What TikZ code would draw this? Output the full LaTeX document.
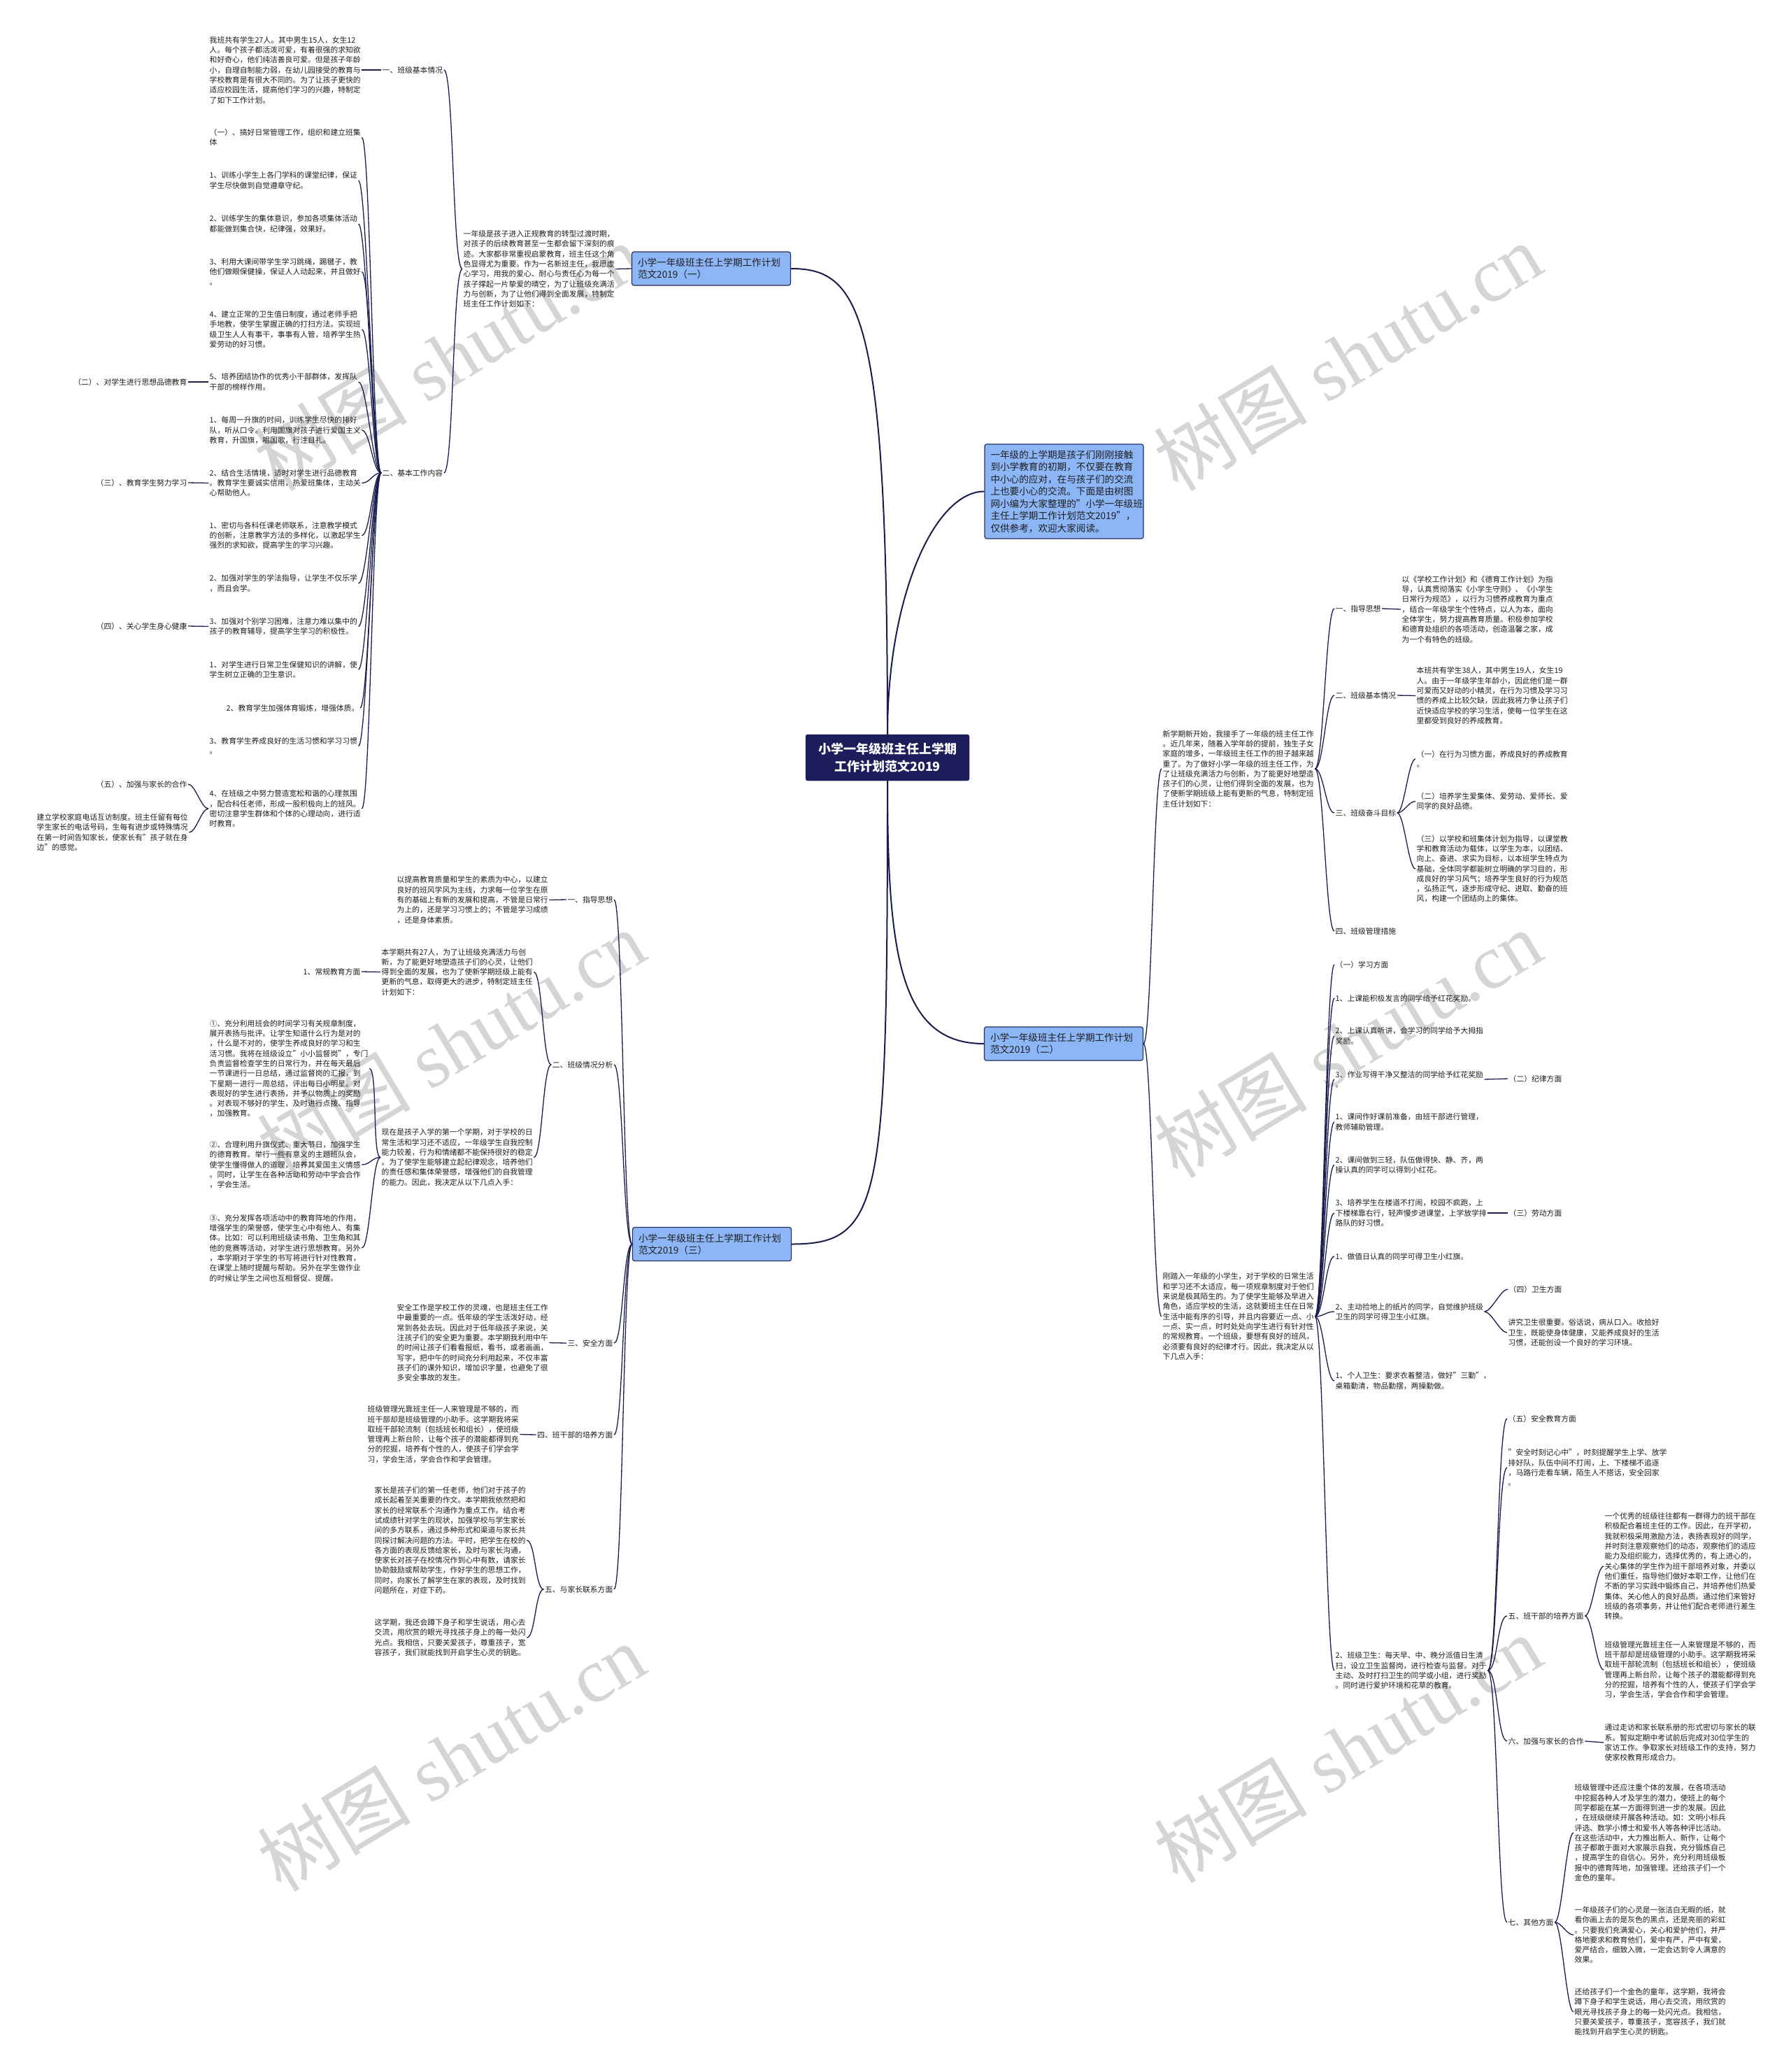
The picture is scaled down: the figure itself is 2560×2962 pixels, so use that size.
\documentclass[tikz,border=0pt]{standalone}
\usepackage{fontspec}
\setmainfont{Noto Sans CJK SC}
\newfontfamily\wmserif{Liberation Serif}
\usetikzlibrary{calc}
\definecolor{lnk}{HTML}{1A1D4E}
\definecolor{ctrfill}{HTML}{1B1E5A}
\definecolor{bfill}{HTML}{8DB6F7}
\definecolor{bdraw}{HTML}{27305E}
\definecolor{txtc}{HTML}{1E1E1E}
\definecolor{wmc}{HTML}{D5D5D5}
\tikzset{
 txt/.style={font=\fontsize{10.8}{14.3}\selectfont, align=left, inner sep=1.5pt, text=txtc},
 link/.style={draw=lnk, line width=1.3pt},
 mainlink/.style={draw=lnk, line width=2pt},
 branchbox/.style={draw=bdraw, fill=bfill, line width=1.2pt, rounded corners=3pt,
   font=\fontsize{13.6}{17}\selectfont, align=left, text width=210pt,
   inner xsep=8.5pt, inner ysep=5pt, minimum height=48pt, text=txtc},
 ctrbox/.style={draw=ctrfill, fill=ctrfill, rounded corners=3pt,
   font=\bfseries\fontsize{18}{25}\selectfont, align=center, text=white,
   minimum width=234pt, minimum height=66pt},
 wm/.style={text=wmc, rotate=31, font=\fontsize{110}{110}\selectfont, inner sep=0pt},
}
\newcommand\lkL[3][12]{\draw[link] (#2) .. controls +(-#1,0) and +(#1,0) .. (#3);}
\newcommand\lkR[3][12]{\draw[link] (#2) .. controls +(#1,0) and +(-#1,0) .. (#3);}
\begin{document}
\begin{tikzpicture}[x=1pt,y=-1pt]
\fill[white] (0,0) rectangle (2560,2962);
\useasboundingbox (0,0) rectangle (2560,2962);
% watermarks
\node[wm] (w1) at (640,510) {树图\hspace{0.25em}{\wmserif shutu.cn}};
\node[wm] (w2) at (1927,510) {树图\hspace{0.25em}{\wmserif shutu.cn}};
\node[wm] (w3) at (645,1492) {树图\hspace{0.25em}{\wmserif shutu.cn}};
\node[wm] (w4) at (1927,1492) {树图\hspace{0.25em}{\wmserif shutu.cn}};
\node[wm] (w5) at (645,2512) {树图\hspace{0.25em}{\wmserif shutu.cn}};
\node[wm] (w6) at (1927,2500) {树图\hspace{0.25em}{\wmserif shutu.cn}};

% ===== center and branches =====
\node[ctrbox] (ctr) at (1269,1083) {小学一年级班主任上学期\\工作计划范文2019};
\node[branchbox] (b1) at (1017,384) {小学一年级班主任上学期工作计划\\范文2019（一）};
\node[branchbox, minimum height=135pt, font=\fontsize{13.6}{17.5}\selectfont] (ri) at (1521.5,702.5) {一年级的上学期是孩子们刚刚接触\\到小学教育的初期，不仅要在教育\\中小心的应对，在与孩子们的交流\\上也要小心的交流。下面是由树图\\网小编为大家整理的"小学一年级班\\主任上学期工作计划范文2019"，\\仅供参考，欢迎大家阅读。};
\node[branchbox] (b2) at (1521,1492) {小学一年级班主任上学期工作计划\\范文2019（二）};
\node[branchbox] (b3) at (1018,1778.5) {小学一年级班主任上学期工作计划\\范文2019（三）};
\draw[mainlink] (b1.east) .. controls +(100,0) and +(0,-600) .. (ctr.north);
\draw[mainlink] (ri.west) .. controls +(-70,0) and +(0,-200) .. (ctr.north);
\draw[mainlink] (ctr.south) .. controls +(0,250) and +(-120,0) .. (b2.west);
\draw[mainlink] (ctr.south) .. controls +(0,600) and +(130,0) .. (b3.east);

% ===== branch (一) =====
\node[txt, anchor=west] (I1) at (661,384.5) {一年级是孩子进入正规教育的转型过渡时期，\\对孩子的后续教育甚至一生都会留下深刻的痕\\迹。大家都非常重视启蒙教育，班主任这个角\\色显得尤为重要。作为一名新班主任，我愿虚\\心学习，用我的爱心、耐心与责任心为每一个\\孩子撑起一片挚爱的晴空，为了让班级充满活\\力与创新，为了让他们得到全面发展，特制定\\班主任工作计划如下：};
\draw[link] (b1.west) -- (I1.east);
\node[txt, anchor=west] (L1) at (545,100) {一、班级基本情况};
\node[txt, anchor=west] (L2) at (545,676) {二、基本工作内容};
\lkL[14]{I1.west}{L1.east}
\lkL[14]{I1.west}{L2.east}
\node[txt, anchor=west] (A1) at (298,100) {我班共有学生27人。其中男生15人，女生12\\人。每个孩子都活泼可爱，有着很强的求知欲\\和好奇心，他们纯洁善良可爱。但是孩子年龄\\小，自理自制能力弱，在幼儿园接受的教育与\\学校教育是有很大不同的。为了让孩子更快的\\适应校园生活，提高他们学习的兴趣，特制定\\了如下工作计划。};
\draw[link] (A1.east) -- (L1.west);

\node[txt, anchor=west] (c1) at (298,196.5) {（一）、搞好日常管理工作，组织和建立班集\\体};
\node[txt, anchor=west] (c2) at (298,258) {1、训练小学生上各门学科的课堂纪律，保证\\学生尽快做到自觉遵章守纪。};
\node[txt, anchor=west] (c3) at (298,320) {2、训练学生的集体意识，参加各项集体活动\\都能做到集合快，纪律强，效果好。};
\node[txt, anchor=west] (c4) at (298,388.5) {3、利用大课间带学生学习跳绳，踢毽子，教\\他们做眼保健操，保证人人动起来，并且做好\\。};
\node[txt, anchor=west] (c5) at (298,471) {4、建立正常的卫生值日制度，通过老师手把\\手地教，使学生掌握正确的打扫方法。实现班\\级卫生人人有事干，事事有人管，培养学生热\\爱劳动的好习惯。};
\node[txt, anchor=west] (c6) at (298,546) {5、培养团结协作的优秀小干部群体，发挥队\\干部的榜样作用。};
\node[txt, anchor=west] (c7) at (298,615) {1、每周一升旗的时间，训练学生尽快的排好\\队，听从口令。利用国旗对孩子进行爱国主义\\教育，升国旗，唱国歌，行注目礼。};
\node[txt, anchor=west] (c8) at (298,690.5) {2、结合生活情境，适时对学生进行品德教育\\。教育学生要诚实信用，热爱班集体，主动关\\心帮助他人。};
\node[txt, anchor=west] (c9) at (298,765.5) {1、密切与各科任课老师联系，注意教学模式\\的创新，注意教学方法的多样化，以激起学生\\强烈的求知欲，提高学生的学习兴趣。};
\node[txt, anchor=west] (c10) at (298,834) {2、加强对学生的学法指导，让学生不仅乐学\\，而且会学。};
\node[txt, anchor=west] (c11) at (298,895.5) {3、加强对个别学习困难，注意力难以集中的\\孩子的教育辅导，提高学生学习的积极性。};
\node[txt, anchor=west] (c12) at (298,957) {1、对学生进行日常卫生保健知识的讲解，使\\学生树立正确的卫生意识。};
\node[txt, anchor=east] (c13) at (515,1012) {2、教育学生加强体育锻炼，增强体质。};
\node[txt, anchor=west] (c14) at (298,1066.5) {3、教育学生养成良好的生活习惯和学习习惯\\。};
\node[txt, anchor=west] (c15) at (298,1156) {4、在班级之中努力营造宽松和谐的心理氛围\\，配合科任老师，形成一股积极向上的班风。\\密切注意学生群体和个体的心理动向，进行适\\时教育。};
\foreach \n in {c1,c2,c3,c4,c5,c6,c7,c8,c9,c10,c11,c12,c13,c14,c15}{\lkL[12]{L2.west}{\n.east}}

\node[txt, anchor=east] (g2) at (269,546) {（二）、对学生进行思想品德教育};
\node[txt, anchor=east] (g3) at (269,690) {（三）、教育学生努力学习};
\node[txt, anchor=east] (g4) at (269,895) {（四）、关心学生身心健康};
\node[txt, anchor=east] (g5) at (269,1121) {（五）、加强与家长的合作};
\node[txt, anchor=west] (g6) at (51,1190) {建立学校家庭电话互访制度。班主任留有每位\\学生家长的电话号码，生每有进步或特殊情况\\在第一时间告知家长，使家长有"孩子就在身\\边"的感觉。};
\draw[link] (g2.east) -- (c6.west);
\draw[link] (g3.east) -- (c8.west);
\draw[link] (g4.east) -- (c11.west);
\lkL[10]{c15.west}{g5.east}
\lkL[10]{c15.west}{g6.east}

% ===== branch (二) =====
\node[txt, anchor=west] (P1) at (1661,1099) {新学期新开始，我接手了一年级的班主任工作\\。近几年来，随着入学年龄的提前，独生子女\\家庭的增多，一年级班主任工作的担子越来越\\重了。为了做好小学一年级的班主任工作，为\\了让班级充满活力与创新，为了能更好地塑造\\孩子们的心灵，让他们得到全面的发展，也为\\了使新学期班级上能有更新的气息，特制定班\\主任计划如下：};
\node[txt, anchor=west] (P2) at (1661,1882) {刚踏入一年级的小学生，对于学校的日常生活\\和学习还不太适应，每一项规章制度对于他们\\来说是极其陌生的。为了使学生能够及早进入\\角色，适应学校的生活，这就要班主任在日常\\生活中能有序的引导，并且内容要近一点、小\\一点、实一点，时时处处向学生进行有针对性\\的常规教育。一个班级，要想有良好的班风，\\必须要有良好的纪律才行。因此，我决定从以\\下几点入手：};
\lkR[12]{b2.east}{P1.west}
\lkR[12]{b2.east}{P2.west}

\node[txt, anchor=west] (R1) at (1908,870) {一、指导思想};
\node[txt, anchor=west] (R2) at (1908,994) {二、班级基本情况};
\node[txt, anchor=west] (R3) at (1908,1162) {三、班级奋斗目标};
\node[txt, anchor=west] (R4) at (1908,1331) {四、班级管理措施};
\foreach \n in {R1,R2,R3,R4}{\lkR[12]{P1.east}{\n.west}}
\node[txt, anchor=west] (R1t) at (2003,871) {以《学校工作计划》和《德育工作计划》为指\\导，认真贯彻落实《小学生守则》、《小学生\\日常行为规范》，以行为习惯养成教育为重点\\，结合一年级学生个性特点，以人为本，面向\\全体学生，努力提高教育质量。积极参加学校\\和德育处组织的各项活动，创造温馨之家，成\\为一个有特色的班级。};
\node[txt, anchor=west] (R2t) at (2024,994.5) {本班共有学生38人，其中男生19人，女生19\\人。由于一年级学生年龄小，因此他们是一群\\可爱而又好动的小精灵，在行为习惯及学习习\\惯的养成上比较欠缺，因此我将力争让孩子们\\近快适应学校的学习生活，使每一位学生在这\\里都受到良好的养成教育。};
\draw[link] (R1.east) -- (R1t.west);
\draw[link] (R2.east) -- (R2t.west);
\node[txt, anchor=west] (R3a) at (2024,1085) {（一）在行为习惯方面，养成良好的养成教育\\。};
\node[txt, anchor=west] (R3b) at (2024,1145.5) {（二）培养学生爱集体、爱劳动、爱师长、爱\\同学的良好品德。};
\node[txt, anchor=west] (R3c) at (2024,1242) {（三）以学校和班集体计划为指导，以课堂教\\学和教育活动为载体，以学生为本，以团结、\\向上、奋进、求实为目标，以本班学生特点为\\基础，全体同学都能树立明确的学习目的，形\\成良好的学习风气；培养学生良好的行为规范\\，弘扬正气，逐步形成守纪、进取、勤奋的班\\风，构建一个团结向上的集体。};
\foreach \n in {R3a,R3b,R3c}{\lkR[10]{R3.east}{\n.west}}

\node[txt, anchor=west] (S1) at (1908,1379) {（一）学习方面};
\node[txt, anchor=west] (S2) at (1908,1427) {1、上课能积极发言的同学给予红花奖励。};
\node[txt, anchor=west] (S3) at (1908,1481) {2、上课认真听讲，会学习的同学给予大拇指\\奖励。};
\node[txt, anchor=west] (S4) at (1908,1543) {3、作业写得干净又整洁的同学给予红花奖励\\。};
\node[txt, anchor=west] (S5) at (1908,1604) {1、课间作好课前准备，由班干部进行管理，\\教师辅助管理。};
\node[txt, anchor=west] (S6) at (1908,1665.5) {2、课间做到三轻，队伍做得快、静、齐，两\\操认真的同学可以得到小红花。};
\node[txt, anchor=west] (S7) at (1908,1734) {3、培养学生在楼道不打闹，校园不疯跑，上\\下楼梯靠右行，轻声慢步进课堂，上学放学排\\路队的好习惯。};
\node[txt, anchor=west] (S8) at (1908,1796) {1、做值日认真的同学可得卫生小红旗。};
\node[txt, anchor=west] (S9) at (1908,1875) {2、主动捡地上的纸片的同学，自觉维护班级\\卫生的同学可得卫生小红旗。};
\node[txt, anchor=west] (S10) at (1908,1974) {1、个人卫生：要求衣着整洁，做好"三勤"，\\桌箱勤清，物品勤摆，两操勤做。};
\node[txt, anchor=west] (S11) at (1908,2388) {2、班级卫生：每天早、中、晚分派值日生清\\扫，设立卫生监督岗，进行检查与监督。对于\\主动、及时打扫卫生的同学或小组，进行奖励\\。同时进行爱护环境和花草的教育。};
\foreach \n in {S1,S2,S3,S4,S5,S6,S7,S8,S9,S10,S11}{\lkR[12]{P2.east}{\n.west}}
\node[txt, anchor=west] (S4c) at (2156,1542) {（二）纪律方面};
\node[txt, anchor=west] (S7c) at (2156,1734) {（三）劳动方面};
\draw[link] (S4.east) -- (S4c.west);
\draw[link] (S7.east) -- (S7c.west);
\node[txt, anchor=west] (S9a) at (2156,1843) {（四）卫生方面};
\node[txt, anchor=west] (S9b) at (2155,1905) {讲究卫生很重要。俗话说，病从口入。收拾好\\卫生，既能使身体健康，又能养成良好的生活\\习惯，还能创设一个良好的学习环境。};
\lkR[10]{S9.east}{S9a.west}
\lkR[10]{S9.east}{S9b.west}

\node[txt, anchor=west] (T1) at (2155,2028) {（五）安全教育方面};
\node[txt, anchor=west] (T2) at (2155,2098) {"安全时刻记心中"，时刻提醒学生上学、放学\\排好队，队伍中间不打闹，上、下楼梯不追逐\\，马路行走看车辆，陌生人不搭话，安全回家\\。};
\node[txt, anchor=west] (T3) at (2155,2310) {五、班干部的培养方面};
\node[txt, anchor=west] (T4) at (2155,2489) {六、加强与家长的合作};
\node[txt, anchor=west] (T5) at (2155,2748) {七、其他方面};
\foreach \n in {T1,T2,T3,T4,T5}{\lkR[14]{S11.east}{\n.west}}
\node[txt, anchor=west] (T3a) at (2293,2239) {一个优秀的班级往往都有一群得力的班干部在\\积极配合着班主任的工作。因此，在开学初，\\我就积极采用激励方法，表扬表现好的同学，\\并时刻注意观察他们的动态，观察他们的适应\\能力及组织能力，选择优秀的，有上进心的，\\关心集体的学生作为班干部培养对象，并委以\\他们重任，指导他们做好本职工作，让他们在\\不断的学习实践中锻炼自己，并培养他们热爱\\集体、关心他人的良好品质。通过他们来管好\\班级的各项事务，并让他们配合老师进行差生\\转换。};
\node[txt, anchor=west] (T3b) at (2293,2387) {班级管理光靠班主任一人来管理是不够的，而\\班干部却是班级管理的小助手。这学期我将采\\取班干部轮流制（包括班长和组长），使班级\\管理再上新台阶，让每个孩子的潜能都得到充\\分的挖掘，培养有个性的人，使孩子们学会学\\习，学会生活，学会合作和学会管理。};
\lkR[10]{T3.east}{T3a.west}
\lkR[10]{T3.east}{T3b.west}
\node[txt, anchor=west] (T4t) at (2293,2491) {通过走访和家长联系册的形式密切与家长的联\\系。暂拟定期中考试前后完成对30位学生的\\家访工作。争取家长对班级工作的支持，努力\\使家校教育形成合力。};
\draw[link] (T4.east) -- (T4t.west);
\node[txt, anchor=west] (T5a) at (2250,2620) {班级管理中还应注重个体的发展，在各项活动\\中挖掘各种人才及学生的潜力，使班上的每个\\同学都能在某一方面得到进一步的发展。因此\\，在班级继续开展各种活动。如：文明小标兵\\评选、数学小博士和爱书人等各种评比活动。\\在这些活动中，大力推出新人、新作，让每个\\孩子都敢于面对大家展示自我，充分锻炼自己\\，提高学生的自信心。另外，充分利用班级板\\报中的德育阵地，加强管理。还给孩子们一个\\金色的童年。};
\node[txt, anchor=west] (T5b) at (2250,2766) {一年级孩子们的心灵是一张洁白无暇的纸，就\\看你画上去的是灰色的黑点，还是亮丽的彩虹\\。只要我们充满爱心，关心和爱护他们，并严\\格地要求和教育他们，爱中有严，严中有爱，\\爱严结合，细致入微，一定会达到令人满意的\\效果。};
\node[txt, anchor=west] (T5c) at (2250,2876) {还给孩子们一个金色的童年，这学期，我将会\\蹲下身子和学生说话，用心去交流，用欣赏的\\眼光寻找孩子身上的每一处闪光点。我相信，\\只要关爱孩子，尊重孩子，宽容孩子，我们就\\能找到开启学生心灵的钥匙。};
\foreach \n in {T5a,T5b,T5c}{\lkR[10]{T5.east}{\n.west}}

% ===== branch (三) =====
\node[txt, anchor=east] (U1) at (878,1286) {一、指导思想};
\node[txt, anchor=east] (U2) at (878,1522) {二、班级情况分析};
\node[txt, anchor=east] (U3) at (878,1920) {三、安全方面};
\node[txt, anchor=east] (U4) at (878,2051) {四、班干部的培养方面};
\node[txt, anchor=east] (U5) at (878,2272) {五、与家长联系方面};
\foreach \n in {U1,U2,U3,U4,U5}{\lkL[13]{b3.west}{\n.east}}
\node[txt, anchor=west] (U1t) at (566,1286.5) {以提高教育质量和学生的素质为中心，以建立\\良好的班风学风为主线，力求每一位学生在原\\有的基础上有新的发展和提高，不管是日常行\\为上的，还是学习习惯上的；不管是学习成绩\\，还是身体素质。};
\draw[link] (U1t.east) -- (U1.west);
\node[txt, anchor=west] (U2a) at (544,1389.5) {本学期共有27人，为了让班级充满活力与创\\新，为了能更好地塑造孩子们的心灵，让他们\\得到全面的发展，也为了使新学期班级上能有\\更新的气息，取得更大的进步，特制定班主任\\计划如下：};
\node[txt, anchor=west] (U2b) at (544,1654.5) {现在是孩子入学的第一个学期，对于学校的日\\常生活和学习还不适应，一年级学生自我控制\\能力较差，行为和情绪都不能保持很好的稳定\\。为了使学生能够建立起纪律观念，培养他们\\的责任感和集体荣誉感，增强他们的自我管理\\的能力。因此，我决定从以下几点入手：};
\lkL[12]{U2.west}{U2a.east}
\lkL[12]{U2.west}{U2b.east}
\node[txt, anchor=east] (U2a1) at (517,1389) {1、常规教育方面};
\draw[link] (U2a1.east) -- (U2a.west);
\node[txt, anchor=west] (V1) at (298,1527.5) {①、充分利用班会的时间学习有关规章制度，\\展开表扬与批评。让学生知道什么行为是对的\\，什么是不对的，使学生养成良好的学习和生\\活习惯。我将在班级设立"小小监督岗"，专门\\负责监督检查学生的日常行为，并在每天最后\\一节课进行一日总结，通过监督岗的汇报，到\\下星期一进行一周总结，评出每日小明星。对\\表现好的学生进行表扬，并予以物质上的奖励\\。对表现不够好的学生，及时进行点拨、指导\\，加强教育。};
\node[txt, anchor=west] (V2) at (298,1665) {②、合理利用升旗仪式、重大节日，加强学生\\的德育教育。举行一些有意义的主题班队会，\\使学生懂得做人的道理，培养其爱国主义情感\\。同时，让学生在各种活动和劳动中学会合作\\，学会生活。};
\node[txt, anchor=west] (V3) at (298,1784) {③、充分发挥各项活动中的教育阵地的作用，\\增强学生的荣誉感，使学生心中有他人、有集\\体。比如：可以利用班级读书角、卫生角和其\\他的竞赛等活动，对学生进行思想教育。另外\\，本学期对于学生的书写将进行针对性教育，\\在课堂上随时提醒与帮助。另外在学生做作业\\的时候让学生之间也互相督促、提醒。};
\foreach \n in {V1,V2,V3}{\lkL[12]{U2b.west}{\n.east}}
\node[txt, anchor=west] (U3t) at (566,1919.5) {安全工作是学校工作的灵魂，也是班主任工作\\中最重要的一点。低年级的学生活泼好动，经\\常到各处去玩。因此对于低年级孩子来说，关\\注孩子们的安全更为重要。本学期我利用中午\\的时间让孩子们看看报纸，看书，或者画画，\\写字，把中午的时间充分利用起来，不仅丰富\\孩子们的课外知识，增加识字量，也避免了很\\多安全事故的发生。};
\draw[link] (U3t.east) -- (U3.west);
\node[txt, anchor=west] (U4t) at (524,2050.5) {班级管理光靠班主任一人来管理是不够的，而\\班干部却是班级管理的小助手。这学期我将采\\取班干部轮流制（包括班长和组长），使班级\\管理再上新台阶，让每个孩子的潜能都得到充\\分的挖掘，培养有个性的人，使孩子们学会学\\习，学会生活，学会合作和学会管理。};
\draw[link] (U4t.east) -- (U4.west);
\node[txt, anchor=west] (U5a) at (534,2202) {家长是孩子们的第一任老师，他们对于孩子的\\成长起着至关重要的作文。本学期我依然把和\\家长的经常联系个沟通作为重点工作。结合考\\试成绩针对学生的现状，加强学校与学生家长\\间的多方联系，通过多种形式和渠道与家长共\\同探讨解决问题的方法。平时，把学生在校的\\各方面的表现反馈给家长，及时与家长沟通，\\使家长对孩子在校情况作到心中有数，请家长\\协助鼓励或帮助学生，作好学生的思想工作，\\同时，向家长了解学生在家的表现，及时找到\\问题所在，对症下药。};
\node[txt, anchor=west] (U5b) at (534,2341) {这学期，我还会蹲下身子和学生说话，用心去\\交流，用欣赏的眼光寻找孩子身上的每一处闪\\光点。我相信，只要关爱孩子，尊重孩子，宽\\容孩子，我们就能找到开启学生心灵的钥匙。};
\lkL[12]{U5.west}{U5a.east}
\lkL[12]{U5.west}{U5b.east}
\end{tikzpicture}
\end{document}
